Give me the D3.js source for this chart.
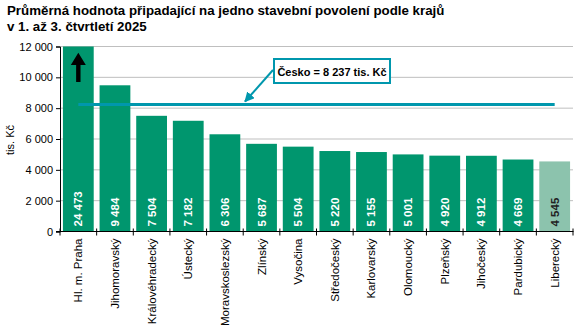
<!DOCTYPE html>
<html><head><meta charset="utf-8">
<script src="https://cdn.jsdelivr.net/npm/d3@7"></script>
<style>body{margin:0;background:#fff}svg{font-family:"Liberation Sans",Arial,sans-serif}</style>
</head><body><svg id="c" width="583" height="325"></svg>
<script>
const categories = ["Hl. m. Praha","Jihomoravský","Královéhradecký","Ústecký","Moravskoslezský","Zlínský","Vysočina","Středočeský","Karlovarský","Olomoucký","Plzeňský","Jihočeský","Pardubický","Liberecký"];
const values = [24473,9484,7504,7182,6306,5687,5504,5220,5155,5001,4920,4912,4669,4545];
const countryAvg = 8237;
const yTicks = [0,2000,4000,6000,8000,10000,12000];
const titleLines = ["Průměrná hodnota připadající na jedno stavební povolení podle krajů","v 1. až 3. čtvrtletí 2025"];
const calloutText = "Česko = 8 237 tis. Kč";
const yLabel = "tis. Kč";

const svg = d3.select("#c");
const m = {l:60, r:10, t:46.5, b:93.5};
const x = d3.scaleBand().domain(categories).range([m.l, 573]).paddingInner(0.16).paddingOuter(0.08);
const y = d3.scaleLinear().domain([0,12000]).range([231.5, 46.5]);
const fmt = v => d3.format(",")(v).replace(/,/g," ");
const green = "#00966e", light = "#8cc3ad", teal = "#0097ad";

svg.selectAll("text.title").data(titleLines).join("text")
  .attr("x",7).attr("y",(d,i)=>15+i*16).attr("font-size",13.3).attr("font-weight","bold").text(d=>d);

// grid
svg.append("g").selectAll("line").data(yTicks.filter(d=>d>0)).join("line")
  .attr("x1",m.l).attr("x2",573).attr("y1",d=>y(d)).attr("y2",d=>y(d))
  .attr("stroke","#bfbfbf").attr("stroke-width",1);

// bars
svg.append("g").selectAll("rect").data(categories).join("rect")
  .attr("x",d=>x(d)).attr("width",x.bandwidth())
  .attr("y",(d,i)=>y(Math.min(values[i],12000))).attr("height",(d,i)=>y(0)-y(Math.min(values[i],12000)))
  .attr("fill",(d,i)=>i===categories.length-1?light:green);

// value labels
svg.append("g").selectAll("text").data(categories).join("text")
  .attr("transform",d=>`translate(${x(d)+x.bandwidth()/2+4},${y(0)-5}) rotate(-90)`)
  .attr("font-size",11.5).attr("font-weight","bold")
  .attr("fill",(d,i)=>i===categories.length-1?"#222":"#fff")
  .text((d,i)=>fmt(values[i]));

// arrow in Praha bar
const cx0 = x(categories[0])+x.bandwidth()/2;
svg.append("path")
  .attr("d",`M${cx0},${y(11600)} L${cx0+7.5},${y(10800)} L${cx0+2.2},${y(10800)} L${cx0+2.2},${y(9700)} L${cx0-2.2},${y(9700)} L${cx0-2.2},${y(10800)} L${cx0-7.5},${y(10800)} Z`)
  .attr("fill","#000");

// y axis
const ya = svg.append("g").attr("transform",`translate(${m.l},0)`)
  .call(d3.axisLeft(y).tickValues(yTicks).tickSize(4).tickFormat(fmt));
ya.select(".domain").attr("stroke","#000");
ya.selectAll("text").attr("font-size",11).attr("fill","#000").attr("font-family","Liberation Sans, Arial, sans-serif");
ya.selectAll("line").attr("stroke","#000");

// x axis
const xa = svg.append("g").attr("transform",`translate(0,${y(0)})`);
xa.append("line").attr("x1",m.l-4).attr("x2",573.5).attr("y1",0).attr("y2",0).attr("stroke","#000");
const step = x.step();
const bounds = d3.range(categories.length+1).map(i=> i===0?m.l:(i===categories.length?573:x(categories[i])-x.paddingInner()*step/2));
xa.selectAll("line.t").data(bounds).join("line").attr("class","t")
  .attr("x1",d=>d).attr("x2",d=>d).attr("y1",-3).attr("y2",4).attr("stroke","#000");
xa.selectAll("text").data(categories).join("text")
  .attr("transform",d=>`translate(${x(d)+x.bandwidth()/2+4},7) rotate(-90)`)
  .attr("text-anchor","end").attr("font-size",11.5).attr("fill","#000").text(d=>d);

// y label
svg.append("text").attr("transform","translate(14,140) rotate(-90)")
  .attr("text-anchor","middle").attr("font-size",11).text(yLabel);

// average line
svg.append("line")
  .attr("x1",x(categories[0])+x.bandwidth()/2).attr("x2",x(categories[categories.length-1])+x.bandwidth()/2)
  .attr("y1",y(countryAvg)).attr("y2",y(countryAvg))
  .attr("stroke",teal).attr("stroke-width",3);

// callout
const defs = svg.append("defs");
defs.append("marker").attr("id","ah").attr("viewBox","0 0 10 10").attr("refX",9).attr("refY",5)
  .attr("markerWidth",5).attr("markerHeight",5).attr("orient","auto")
  .append("path").attr("d","M0,0 L10,5 L0,10 Z").attr("fill",teal);
svg.append("line").attr("x1",273).attr("y1",70).attr("x2",245).attr("y2",y(countryAvg)-3)
  .attr("stroke",teal).attr("stroke-width",2).attr("marker-end","url(#ah)");
svg.append("rect").attr("x",274).attr("y",59).attr("width",116).attr("height",24)
  .attr("fill","#fff").attr("stroke",teal).attr("stroke-width",2);
svg.append("text").attr("x",332).attr("y",75.5).attr("text-anchor","middle")
  .attr("font-size",11).attr("font-weight","bold").text(calloutText);
</script></body></html>
